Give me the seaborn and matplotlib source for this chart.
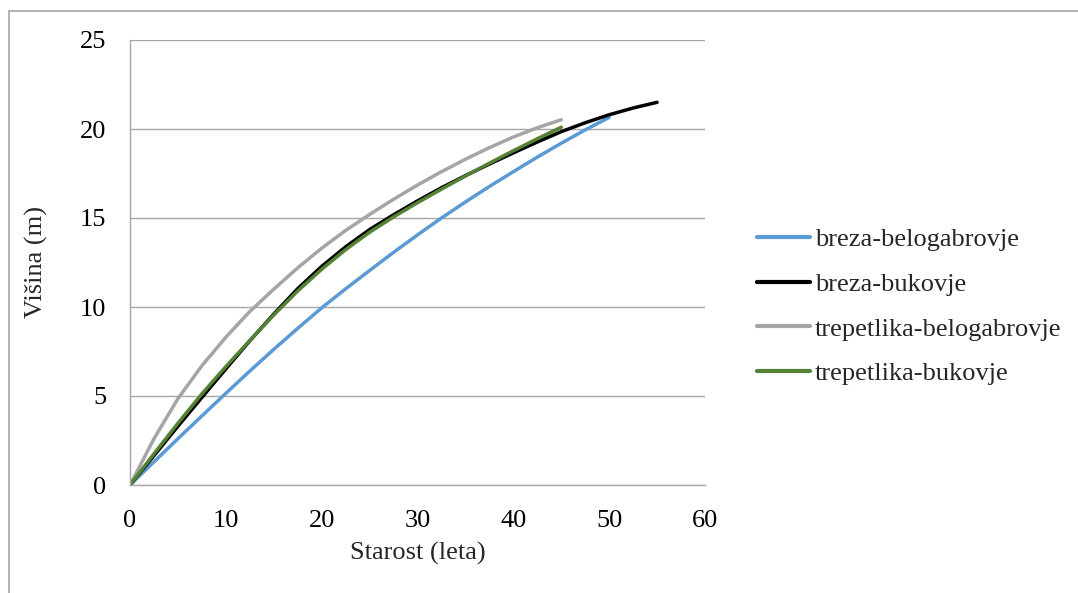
import numpy as np
import pandas as pd
import matplotlib
matplotlib.use("Agg")
import matplotlib.pyplot as plt
from matplotlib.lines import Line2D
import seaborn as sns

# ---- data ----
series_names = ["breza-belogabrovje", "breza-bukovje",
                "trepetlika-belogabrovje", "trepetlika-bukovje"]

x_bb = [0, 2.5, 5, 7.5, 10, 12.5, 15, 17.5, 20, 22.5, 25, 27.5, 30, 32.5, 35,
        37.5, 40, 42.5, 45, 47.5, 50]
y_bb = [0, 1.3, 2.6, 3.88, 5.15, 6.4, 7.62, 8.8, 9.95, 11.02, 12.05, 13.07,
        14.05, 15.0, 15.9, 16.77, 17.6, 18.42, 19.2, 19.95, 20.65]

x_bu = [0, 2.5, 5, 7.5, 10, 12.5, 15, 17.5, 20, 22.5, 25, 27.5, 30, 32.5, 35,
        37.5, 40, 42.5, 45, 47.5, 50, 52.5, 55]
y_bu = [0, 1.65, 3.3, 4.92, 6.52, 8.1, 9.6, 11.03, 12.28, 13.38, 14.35, 15.18,
        15.96, 16.7, 17.38, 18.03, 18.66, 19.27, 19.85, 20.35, 20.8, 21.18, 21.5]

x_tb = [0, 2.5, 5, 7.5, 10, 12.5, 15, 17.5, 20, 22.5, 25, 27.5, 30, 32.5, 35,
        37.5, 40, 42.5, 45]
y_tb = [0, 2.6, 4.85, 6.7, 8.3, 9.75, 11.0, 12.2, 13.3, 14.3, 15.2, 16.05,
        16.85, 17.6, 18.3, 18.95, 19.55, 20.07, 20.52]

x_tu = [0, 2.5, 5, 7.5, 10, 12.5, 15, 17.5, 20, 22.5, 25, 27.5, 30, 32.5, 35,
        37.5, 40, 42.5, 45]
y_tu = [0, 1.75, 3.47, 5.12, 6.65, 8.12, 9.55, 10.9, 12.12, 13.22, 14.2, 15.06,
        15.86, 16.62, 17.36, 18.08, 18.78, 19.45, 20.1]

x_ticks = [0, 10, 20, 30, 40, 50, 60]
y_ticks = [0, 5, 10, 15, 20, 25]

colors = ["#5B9BD5", "#000000", "#A5A5A5", "#548235"]

frames = []
for name, xs, ys in zip(series_names, [x_bb, x_bu, x_tb, x_tu],
                        [y_bb, y_bu, y_tb, y_tu]):
    frames.append(pd.DataFrame({"Starost": xs, "Visina": ys, "serija": name}))
df = pd.concat(frames, ignore_index=True)

# ---- style ----
sns.set_style("white")
plt.rcParams["font.family"] = ["Liberation Serif", "DejaVu Serif"]
FS = 19

W, H = 1078, 593
fig = plt.figure(figsize=(W / 100, H / 100), dpi=100)
ax = fig.add_axes([130 / W, 1 - 485 / H, 575 / W, 445 / H])

sns.lineplot(data=df, x="Starost", y="Visina", hue="serija",
             hue_order=series_names, palette=dict(zip(series_names, colors)),
             linewidth=2.5, ax=ax, legend=False, sort=True, estimator=None)
for ln in ax.get_lines():
    ln.set_solid_capstyle("round")
    ln.set_solid_joinstyle("round")

ax.set_xlim(0, 60)
ax.set_ylim(0, 25)
ax.set_xticks(x_ticks)
ax.set_yticks(y_ticks)
ax.tick_params(axis="both", length=0, labelsize=FS, colors="black")
ax.tick_params(axis="x", pad=18)
ax.tick_params(axis="y", pad=17)
ax.yaxis.grid(True, color="#A6A6A6", linewidth=1.0)
ax.xaxis.grid(False)
ax.set_axisbelow(True)
for s in ["top", "right"]:
    ax.spines[s].set_visible(False)
for s in ["left", "bottom"]:
    ax.spines[s].set_color("#A6A6A6")
    ax.spines[s].set_linewidth(1.0)

ax.set_xlabel("Starost (leta)", fontsize=FS, labelpad=7)
ax.set_ylabel("Višina (m)", fontsize=FS, labelpad=23)

handles = [Line2D([0], [0], color=c, linewidth=3.0) for c in colors]
fig.legend(handles, series_names, loc="upper left",
           bbox_to_anchor=(757 / W, 1 - 228 / H), frameon=False,
           fontsize=FS, handlelength=2.0, handletextpad=0.2,
           labelspacing=0.8, borderpad=0, borderaxespad=0)

# chart outer border (cropped Excel chart frame)
fig.add_artist(Line2D([8.5 / W, 1.0], [1 - 10.5 / H, 1 - 10.5 / H],
                      transform=fig.transFigure, color="#A6A6A6", linewidth=1.2))
fig.add_artist(Line2D([8.5 / W, 8.5 / W], [0.0, 1 - 10.5 / H],
                      transform=fig.transFigure, color="#A6A6A6", linewidth=1.2))

fig.savefig("out.png", dpi=100, facecolor="white")
